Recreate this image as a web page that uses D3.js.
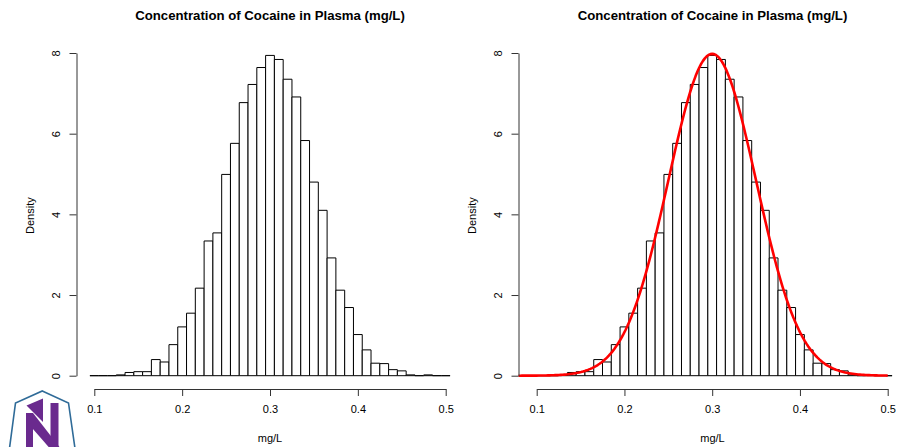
<!DOCTYPE html>
<html>
<head>
<meta charset="utf-8">
<script src="https://cdn.jsdelivr.net/npm/d3@7"></script>
<style>
  html, body { margin: 0; padding: 0; background: #fff; }
  svg { display: block; font-family: "Liberation Sans", Arial, Helvetica, sans-serif; }
</style>
</head>
<body>
<svg id="chart" width="897" height="447"></svg>
<script>
// Histogram of simulated plasma cocaine concentrations (density scale, bins of 0.01 mg/L)
const binCenters = [0.10, 0.11, 0.12, 0.13, 0.14, 0.15, 0.16, 0.17, 0.18, 0.19,
                    0.20, 0.21, 0.22, 0.23, 0.24, 0.25, 0.26, 0.27, 0.28, 0.29,
                    0.30, 0.31, 0.32, 0.33, 0.34, 0.35, 0.36, 0.37, 0.38, 0.39,
                    0.40, 0.41, 0.42, 0.43, 0.44, 0.45, 0.46, 0.47, 0.48, 0.49, 0.50];
const densities = [0, 0, 0, 0.02, 0.08, 0.10, 0.10, 0.40, 0.34, 0.77,
                   1.21, 1.55, 2.17, 3.34, 3.54, 4.99, 5.76, 6.77, 7.22, 7.64,
                   7.94, 7.84, 7.35, 6.91, 5.83, 4.80, 4.10, 2.92, 2.12, 1.69,
                   1.02, 0.64, 0.31, 0.30, 0.15, 0.12, 0.02, 0, 0.02, 0, 0];
const binWidth = 0.01;

// Fitted normal density overlaid on the second panel
const normalMean = 0.30;
const normalSd = 0.05;
const curveFrom = 0.079;
const curveTo = 0.50;

const xTicks = [0.1, 0.2, 0.3, 0.4, 0.5];
const yTicks = [0, 2, 4, 6, 8];

const titleText = "Concentration of Cocaine in Plasma (mg/L)";
const xLabel = "mg/L";
const yLabel = "Density";

const svg = d3.select("#chart");

const y = d3.scaleLinear().domain([0, 8]).range([375.7, 53.0]);

const panels = [
  { xRange: [94.3, 445.7], left: 75.5, right: 464.5, showCurve: false },
  { xRange: [536.7, 887.7], left: 518.3, right: 906.7, showCurve: true }
];
const plotTop = 42.7, plotBottom = 388.5;

const hist = binCenters.map((c, i) => ({ x0: c - binWidth / 2, x1: c + binWidth / 2, d: densities[i] }));

panels.forEach((p, idx) => {
  const x = d3.scaleLinear().domain([0.1, 0.5]).range(p.xRange);
  const g = svg.append("g");
  const cx = (p.left + p.right) / 2;

  // bars (zero-height bins become flat lines along the baseline)
  g.append("g").selectAll("path").data(hist).join("path")
    .attr("d", b => {
      const x0 = x(b.x0), x1 = x(b.x1), y0 = y(0), y1 = y(b.d);
      return `M${x0},${y0}V${y1}H${x1}V${y0}Z`;
    })
    .attr("fill", "#fff")
    .attr("stroke", "#000")
    .attr("stroke-width", 1);

  // normal density curve
  if (p.showCurve) {
    const clipId = "clip" + idx;
    svg.append("clipPath").attr("id", clipId).append("rect")
      .attr("x", p.left).attr("y", plotTop)
      .attr("width", p.right - p.left).attr("height", plotBottom - plotTop);
    const pts = d3.range(0, 201).map(i => {
      const v = curveFrom + (curveTo - curveFrom) * i / 200;
      const z = (v - normalMean) / normalSd;
      return [v, Math.exp(-0.5 * z * z) / (normalSd * Math.sqrt(2 * Math.PI))];
    });
    g.append("path")
      .attr("clip-path", `url(#${clipId})`)
      .attr("d", d3.line().x(d => x(d[0])).y(d => y(d[1]))(pts))
      .attr("fill", "none")
      .attr("stroke", "#ff0000")
      .attr("stroke-width", 2.6)
      .attr("stroke-linejoin", "round");
  }

  // x axis
  const xAxis = g.append("g")
    .attr("transform", "translate(0,389)")
    .call(d3.axisBottom(x).tickValues(xTicks).tickSize(7).tickSizeOuter(0).tickFormat(d3.format(".1f")));
  xAxis.selectAll("text")
    .attr("y", 20).attr("dy", "0.35em")
    .attr("font-size", 11).attr("fill", "#000")
    .attr("font-family", "Liberation Sans, Arial, sans-serif");
  xAxis.selectAll("path, line").attr("stroke", "#333");

  // y axis
  const axisX = Math.round(p.left) + 0.5;
  const yAxis = g.append("g")
    .attr("transform", `translate(${axisX},0)`)
    .call(d3.axisLeft(y).tickValues(yTicks).tickSize(7).tickSizeOuter(0));
  yAxis.selectAll("text")
    .attr("x", 0).attr("y", 0).attr("dy", "0.35em")
    .attr("text-anchor", "middle")
    .attr("transform", "translate(-20,0) rotate(-90)")
    .attr("font-size", 11).attr("fill", "#000")
    .attr("font-family", "Liberation Sans, Arial, sans-serif");
  yAxis.selectAll("path, line").attr("stroke", "#333");

  // titles
  g.append("text")
    .attr("x", cx).attr("y", 20)
    .attr("text-anchor", "middle")
    .attr("font-size", 13.2).attr("font-weight", "bold")
    .text(titleText);
  g.append("text")
    .attr("x", cx).attr("y", 437.7).attr("dy", "0.35em")
    .attr("text-anchor", "middle")
    .attr("font-size", 11)
    .text(xLabel);
  g.append("text")
    .attr("transform", `translate(${axisX - 46},${(plotTop + plotBottom) / 2}) rotate(-90)`)
    .attr("dy", "0.35em")
    .attr("text-anchor", "middle")
    .attr("font-size", 11)
    .text(yLabel);
});

// emblem in the lower-left corner
const logo = svg.append("g");
logo.append("path")
  .attr("d", "M42.3,391 L68.5,403 L75.5,452 L9,452 L15.5,403 Z")
  .attr("fill", "#fff").attr("stroke", "#2f6b98").attr("stroke-width", 1.6);
logo.append("path").attr("d", "M26.5,405.5 L43,398.5 L43,422 Z").attr("fill", "#6a2a8e");
logo.append("path").attr("d", "M26,413 L33,413 L33,452 L26,452 Z").attr("fill", "#6a2a8e");
logo.append("path").attr("d", "M26,416 L33,413 L61,449 L61,452 L53,452 L26,421 Z").attr("fill", "#6a2a8e");
logo.append("path").attr("d", "M50.5,403 L58.5,403 L58.5,452 L50.5,452 Z").attr("fill", "#6a2a8e");
</script>
</body>
</html>
